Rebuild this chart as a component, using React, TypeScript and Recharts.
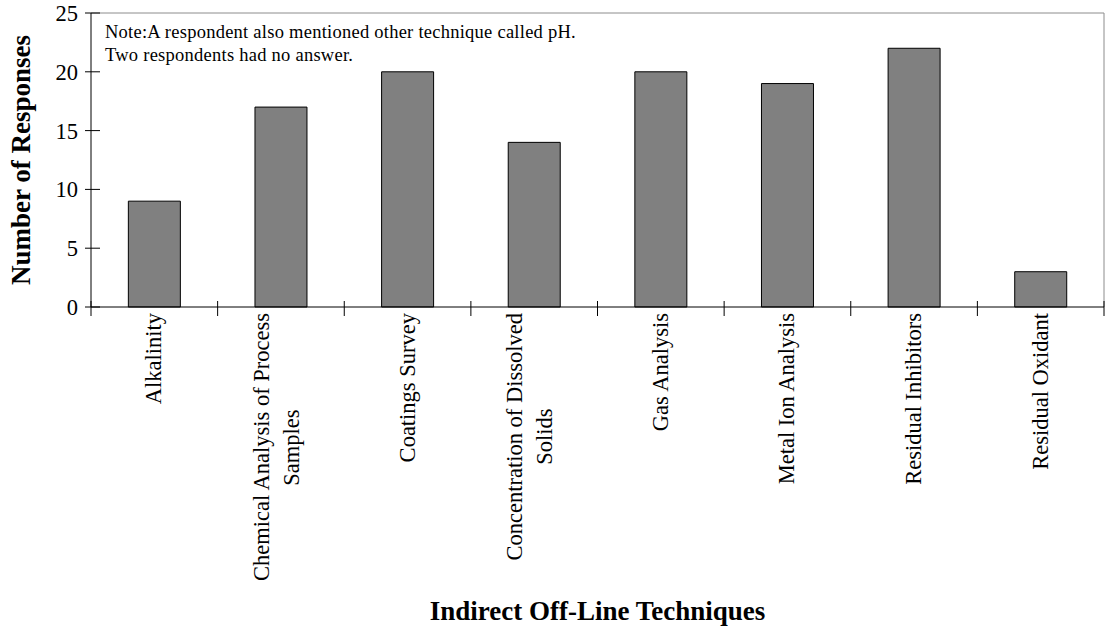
import { BarChart, Bar, XAxis, YAxis, ReferenceArea } from 'recharts'

const categories = [
  'Alkalinity',
  'Chemical Analysis of Process Samples',
  'Coatings Survey',
  'Concentration of Dissolved Solids',
  'Gas Analysis',
  'Metal Ion Analysis',
  'Residual Inhibitors',
  'Residual Oxidant',
]

// how each category name is broken on the axis
const tickLines = [
  ['Alkalinity'],
  ['Chemical Analysis of Process', 'Samples'],
  ['Coatings Survey'],
  ['Concentration of Dissolved', 'Solids'],
  ['Gas Analysis'],
  ['Metal Ion Analysis'],
  ['Residual Inhibitors'],
  ['Residual Oxidant'],
]

const responses = [9, 17, 20, 14, 20, 19, 22, 3]

const yTicks = [0, 5, 10, 15, 20, 25]

const noteLines = [
  'Note:A respondent also mentioned other technique called pH.',
  'Two respondents had no answer.',
]

const data = categories.map((name, i) => ({ name, responses: responses[i] }))

const SERIF = '"Liberation Serif", "Times New Roman", serif'
const TICK_FONT = 22.5

let ctx: CanvasRenderingContext2D | null = null
function textWidth(s: string) {
  if (!ctx) ctx = document.createElement('canvas').getContext('2d')
  if (!ctx) return s.length * TICK_FONT * 0.45
  ctx.font = `${TICK_FONT}px "Liberation Serif"`
  return ctx.measureText(s).width
}

function CategoryTick(props: any) {
  const { x, y, payload } = props
  const half = payload?.offset ?? 63.3
  const idx = categories.indexOf(payload.value)
  const lines = tickLines[idx] ?? [payload.value]
  const end = -6
  return (
    <g>
      <line x1={x + half} x2={x + half} y1={y - 6} y2={y + 9} stroke="#000" />
      {idx === 0 && <line x1={x - half} x2={x - half} y1={y - 6} y2={y + 9} stroke="#000" />}
      <g transform={`translate(${x},${y}) rotate(-90)`} fontFamily={SERIF} fontSize={TICK_FONT} fill="#000">
        {lines.length === 1 ? (
          <text x={end} y={7} textAnchor="end">{lines[0]}</text>
        ) : (
          <>
            <text x={end} y={-12} textAnchor="end">{lines[0]}</text>
            <text x={end - textWidth(lines[0]) / 2} y={18} textAnchor="middle">{lines[1]}</text>
          </>
        )}
      </g>
    </g>
  )
}

function CountTick(props: any) {
  const { x, y, payload } = props
  return (
    <g>
      <line x1={x - 6} x2={x + 9} y1={y} y2={y} stroke="#000" />
      <text x={x - 13} y={y + 8} textAnchor="end" fontFamily={SERIF} fontSize={TICK_FONT} fill="#000">
        {payload.value}
      </text>
    </g>
  )
}

function PlotFrame(props: any) {
  const { x, y, width, height } = props
  return (
    <g stroke="#8c8c8c" strokeWidth={1}>
      <line x1={x} y1={y} x2={x + width} y2={y} />
      <line x1={x + width} y1={y} x2={x + width} y2={y + height} />
    </g>
  )
}

function NoteText(props: any) {
  const vb = props.viewBox ?? props
  return (
    <text fontFamily={SERIF} fontSize={18.5} letterSpacing={0.25} fill="#000">
      {noteLines.map((line, i) => (
        <tspan key={i} x={vb.x + 14} y={vb.y + 25 + i * 23}>{line}</tspan>
      ))}
    </text>
  )
}

function YTitle(props: any) {
  const vb = props.viewBox
  return (
    <text
      transform={`translate(${vb.x + 30},${vb.y + vb.height / 2}) rotate(-90)`}
      textAnchor="middle"
      fontFamily={SERIF}
      fontSize={27}
      fontWeight="bold"
      fill="#000"
    >
      Number of Responses
    </text>
  )
}

function XTitle(props: any) {
  const vb = props.viewBox
  return (
    <text
      x={vb.x + vb.width / 2}
      y={vb.y + 313}
      textAnchor="middle"
      fontFamily={SERIF}
      fontSize={27}
      fontWeight="bold"
      fill="#000"
    >
      Indirect Off-Line Techniques
    </text>
  )
}

export default function App() {
  return (
    <div style={{ position: 'absolute', left: 0, top: 0, background: '#fff' }}>
      <BarChart
        width={1109}
        height={628}
        data={data}
        margin={{ top: 13, right: 5, bottom: 0, left: 0 }}
        barCategoryGap="29.5%"
      >
        <ReferenceArea
          x1={categories[0]}
          x2={categories[categories.length - 1]}
          y1={0}
          y2={25}
          fill="none"
          shape={(p: any) => <PlotFrame {...p} />}
          label={<NoteText />}
        />
        <XAxis
          dataKey="name"
          height={321}
          interval={0}
          tickSize={0}
          tickMargin={0}
          tickLine={false}
          axisLine={{ stroke: '#000' }}
          tick={<CategoryTick />}
          label={<XTitle />}
        />
        <YAxis
          width={91}
          domain={[0, 25]}
          ticks={yTicks}
          interval={0}
          tickSize={0}
          tickMargin={0}
          tickLine={false}
          axisLine={{ stroke: '#000' }}
          tick={<CountTick />}
          label={<YTitle />}
        />
        <Bar dataKey="responses" fill="#808080" stroke="#000" strokeWidth={1} isAnimationActive={false} />
      </BarChart>
    </div>
  )
}
